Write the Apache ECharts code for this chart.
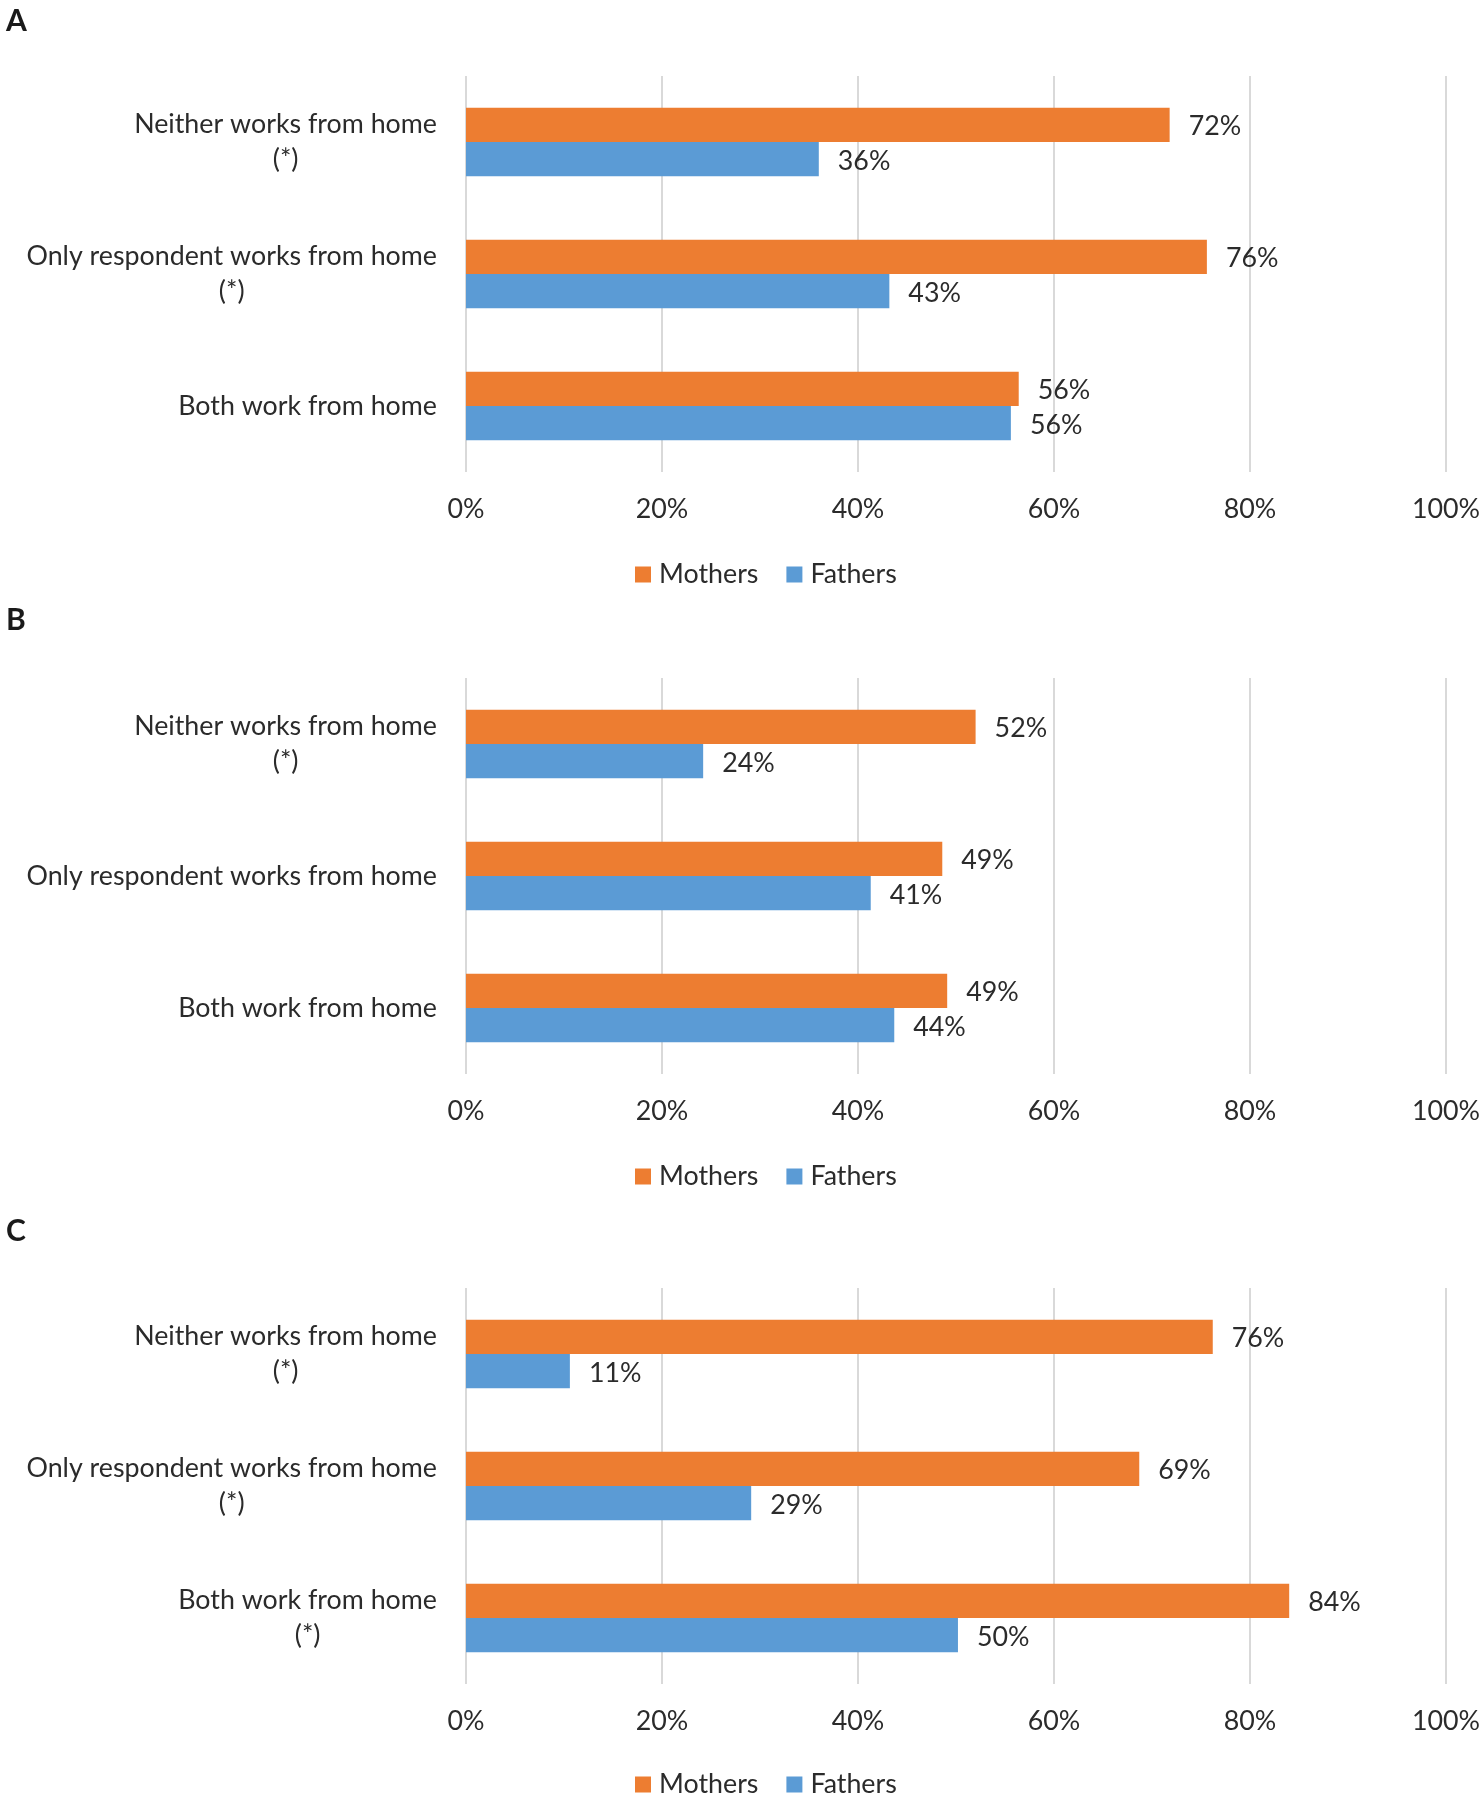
<!DOCTYPE html>
<html>
<head>
<meta charset="utf-8">
<script src="https://cdn.jsdelivr.net/npm/echarts@6/dist/echarts.min.js"></script>
<style>
html,body{margin:0;padding:0;background:#fff;}
#chart{width:1484px;height:1800px;}
</style>
</head>
<body>
<div id="chart"></div>
<script>
// ---- data ----
const panelLetters = ['A', 'B', 'C'];
const categoriesA = ['Neither works from home\n(*)', 'Only respondent works from home\n(*)', 'Both work from home'];
const categoriesB = ['Neither works from home\n(*)', 'Only respondent works from home', 'Both work from home'];
const categoriesC = ['Neither works from home\n(*)', 'Only respondent works from home\n(*)', 'Both work from home\n(*)'];
const mothersA = [71.8, 75.6, 56.4];
const fathersA = [36.0, 43.2, 55.6];
const mothersB = [52.0, 48.6, 49.1];
const fathersB = [24.2, 41.3, 43.7];
const mothersC = [76.2, 68.7, 84.0];
const fathersC = [10.6, 29.1, 50.2];
const seriesNames = ['Mothers', 'Fathers'];
const axisMax = 100;
const axisStep = 20;

// ---- layout / style ----
const FONT = 'Lato';
const TEXT = '#2b2b2b';
const FS = 26.8;
const colors = ['#ED7D31', '#5B9BD5'];
const gridTops = [76, 678, 1288];
const gridH = 396;
const letterTops = [6, 605, 1216];
const legendTops = [561, 1163, 1771];

const panels = [
  {cats: categoriesA, m: mothersA, f: fathersA},
  {cats: categoriesB, m: mothersB, f: fathersB},
  {cats: categoriesC, m: mothersC, f: fathersC}
];

const option = {
  backgroundColor: '#ffffff',
  animation: false,
  color: colors,
  title: panelLetters.map((t, i) => ({
    text: t, left: 6, top: letterTops[i], padding: 0,
    textStyle: {fontFamily: FONT, fontWeight: 'bold', fontSize: 30, color: '#1a1a1a'}
  })),
  legend: legendTops.map(t => ({
    data: seriesNames, left: 635, top: t, padding: 0,
    icon: 'rect', itemWidth: 16, itemHeight: 16, itemGap: 28,
    textStyle: {fontFamily: FONT, fontSize: FS, color: TEXT, padding: [0, 0, 0, 3]}
  })),
  grid: gridTops.map(t => ({left: 466, right: 38, top: t, height: gridH})),
  xAxis: panels.map((p, i) => ({
    type: 'value', gridIndex: i, min: 0, max: axisMax, interval: axisStep,
    axisLine: {show: false}, axisTick: {show: false},
    splitLine: {show: true, lineStyle: {color: '#d9d9d9', width: 2}},
    axisLabel: {formatter: '{value}%', margin: 24, fontFamily: FONT, fontSize: FS, color: TEXT}
  })),
  yAxis: panels.map((p, i) => ({
    type: 'category', gridIndex: i, inverse: true, data: p.cats,
    axisLine: {show: false}, axisTick: {show: false}, splitLine: {show: false},
    axisLabel: {
      margin: 29, fontFamily: FONT, fontSize: FS, color: TEXT, lineHeight: 35,
      formatter: v => v.split('\n').map(s => '{c|' + s + '}').join('\n'),
      rich: {c: {align: 'center', fontFamily: FONT, fontSize: FS, color: TEXT, lineHeight: 35}}
    }
  })),
  series: []
};

panels.forEach((p, i) => {
  [p.m, p.f].forEach((vals, k) => {
    option.series.push({
      type: 'bar', name: seriesNames[k], xAxisIndex: i, yAxisIndex: i,
      data: vals, barCategoryGap: '48%', barGap: '0%',
      itemStyle: {color: colors[k]},
      label: {
        show: true, position: 'right', distance: 19, offset: [0, 2],
        fontFamily: FONT, fontSize: FS, color: TEXT,
        formatter: d => Math.round(d.value) + '%'
      }
    });
  });
});

const chart = echarts.init(document.getElementById('chart'), null, {renderer: 'canvas'});
chart.setOption(option);
</script>
</body>
</html>
